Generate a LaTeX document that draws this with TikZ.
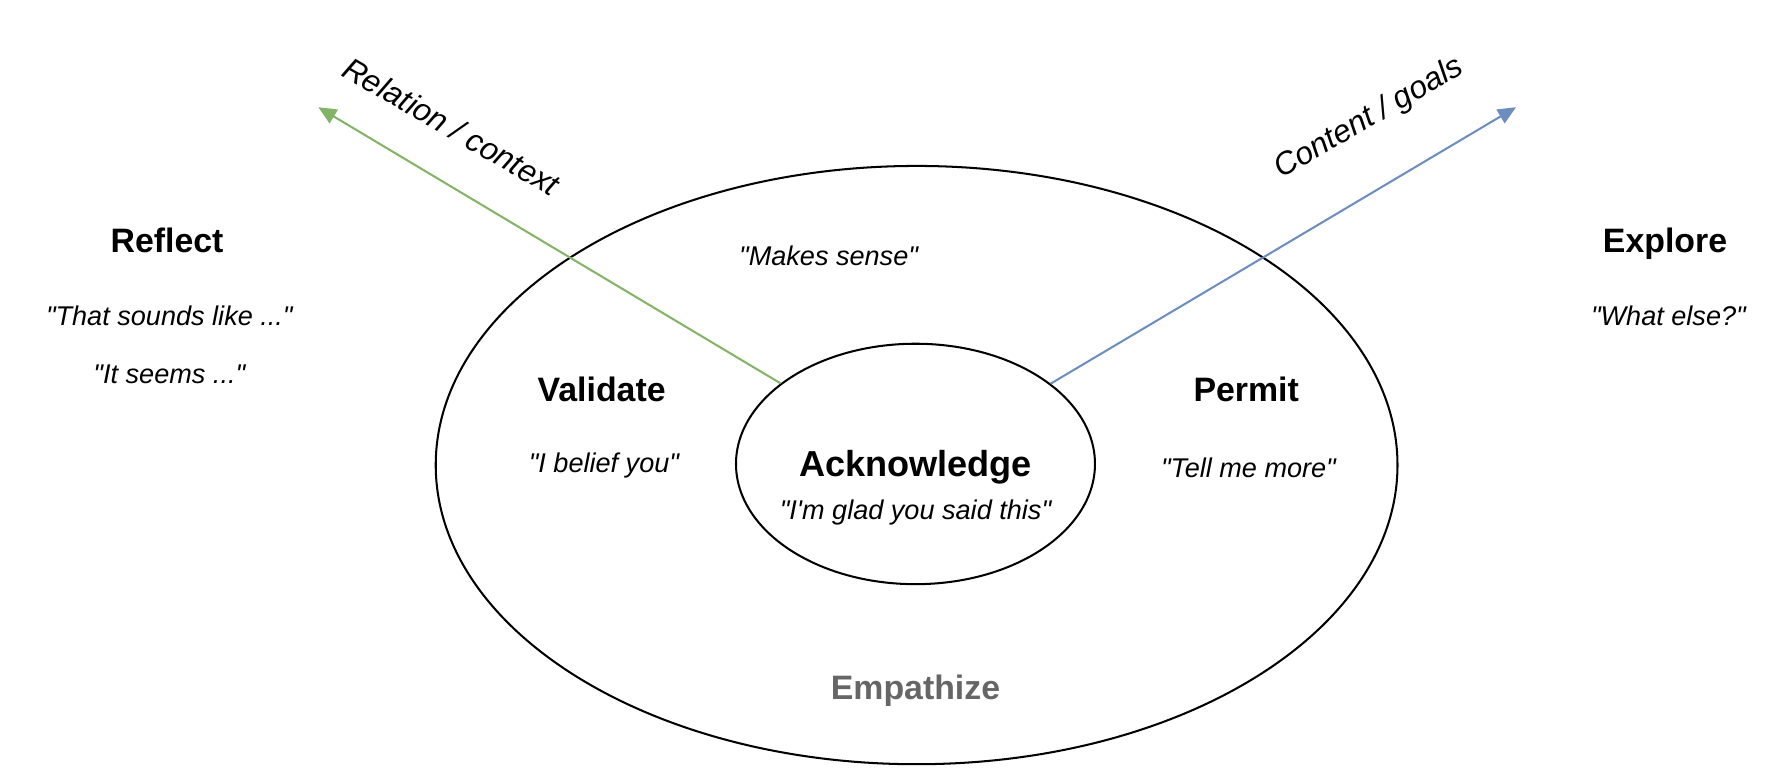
\documentclass[tikz,border=0pt]{standalone}
\usepackage{xcolor}
\usepackage{fontspec}
\setmainfont{Liberation Sans}[Ligatures=TeXOff]
\usepackage{tikz}
\usetikzlibrary{positioning}
\usetikzlibrary{shapes,arrows,calc,arrows.meta}
\definecolor{relgreen}{HTML}{82B366}
\definecolor{goalblue}{HTML}{6C8EBF}
\definecolor{empgray}{HTML}{666666}

\begin{document}
\begin{tikzpicture}[x=0.5pt, y=-0.5pt,
        title/.style={font=\fontsize{15}{18}\selectfont\bfseries},
        quote/.style={font=\fontsize{12}{14}\selectfont\itshape},
        ring/.style={draw, ellipse, line width=0.9pt},
        axis/.style={line width=0.9pt, -{Triangle[length=8pt, width=7pt]}}]
        \useasboundingbox (0,0) rectangle (1568,680);

        % Define the ellipses
        \node[ring, minimum width=426pt, minimum height=265pt] (outer) at (812,412) {};
        \node[ring, minimum width=159pt, minimum height=106.5pt] (ack) at (811,411) {};

        % Define the texts
        \node[font=\fontsize{16}{19}\selectfont\bfseries] (acktitle) at (811,414) {Acknowledge};
        \node[quote] (ackquote) at (811,454) {"I'm glad you said this"};
        \node[title, text=empgray] (empathize) at (811,612) {Empathize};
        \node[quote] (makessense) at (734,227) {"Makes sense"};
        \node[title] (validate) at (533,345) {Validate};
        \node[quote] (belief) at (535,412) {"I belief you"};
        \node[title] (permit) at (1104,345) {Permit};
        \node[quote] (tellmore) at (1106,414) {"Tell me more"};
        \node[title] (reflect) at (148,213) {Reflect};
        \node[quote] (soundslike) at (150,280) {"That sounds like ..."};
        \node[quote] (seems) at (150,332) {"It seems ..."};
        \node[title] (explore) at (1475,216) {Explore};
        \node[quote] (whatelse) at (1478,280) {"What else?"};

        % Draw the axes
        \coordinate (reltip) at (282,95);
        \coordinate (goaltip) at (1343,95);
        \draw[axis, relgreen] (ack) -- (reltip);
        \draw[axis, goalblue] (ack) -- (goaltip);
        \node[font=\fontsize{14}{17}\selectfont\itshape, rotate=-30] (relation) at (400,112) {Relation / context};
        \node[font=\fontsize{14}{17}\selectfont\itshape, rotate=30] (content) at (1213,105) {Content / goals};
    \end{tikzpicture}
\end{document}
